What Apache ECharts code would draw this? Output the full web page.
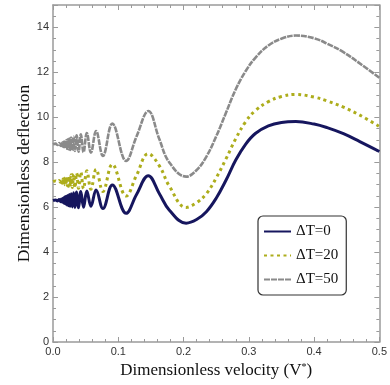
<!DOCTYPE html>
<html><head><meta charset="utf-8">
<script src="https://cdn.jsdelivr.net/npm/echarts@6/dist/echarts.min.js"></script>
<style>html,body{margin:0;padding:0;background:#fff}#c{width:390px;height:385px}</style>
</head><body><div id="c"></div>
<script>
const seriesNames = ['ΔT=0', 'ΔT=20', 'ΔT=50'];
const velocity = [0.000, 0.004, 0.007, 0.0095, 0.0112, 0.0121,
  0.0129, 0.0133, 0.0137, 0.0141, 0.0145, 0.0149, 0.0154, 0.0159, 0.0164, 0.0170,
  0.0177, 0.0183, 0.0190, 0.0198, 0.0207, 0.0216, 0.0226, 0.0237, 0.0250, 0.0263,
  0.0279, 0.0296, 0.0315, 0.0337, 0.0362, 0.0392, 0.0426, 0.0468, 0.0518, 0.0581,
  0.0660, 0.0765, 0.0909, 0.1120, 0.128, 0.146, 0.163, 0.178, 0.204, 0.22, 0.235,
  0.25, 0.265, 0.28, 0.295, 0.31, 0.33, 0.35, 0.372, 0.40, 0.42, 0.445, 0.47, 0.50];
const deflectionDT0 = [6.30, 6.32, 6.28, 6.34, 6.27, 6.24,
  6.36, 6.25, 6.37, 6.24, 6.38, 6.22, 6.40, 6.20, 6.42, 6.18,
  6.44, 6.16, 6.46, 6.13, 6.49, 6.10, 6.52, 6.07, 6.56, 6.04,
  6.60, 6.01, 6.64, 5.99, 6.68, 5.98, 6.70, 6.00, 6.72, 6.04,
  6.77, 5.94, 6.99, 5.73, 6.57, 7.40, 6.60, 5.88, 5.29, 5.45, 5.80,
  6.40, 7.20, 8.10, 8.80, 9.28, 9.62, 9.77, 9.81, 9.70, 9.54, 9.27, 8.92, 8.48];
const deflectionDT20 = [7.15, 7.17, 7.13, 7.19, 7.12, 7.10,
  7.21, 7.08, 7.22, 7.07, 7.23, 7.06, 7.25, 7.04, 7.27, 7.02,
  7.29, 7.00, 7.31, 6.98, 7.34, 6.96, 7.37, 6.93, 7.40, 6.90,
  7.44, 6.88, 7.48, 6.86, 7.52, 6.84, 7.57, 6.82, 7.62, 6.80,
  7.69, 6.70, 7.91, 6.50, 7.42, 8.38, 7.84, 6.95, 5.99, 6.20, 6.60,
  7.30, 8.15, 9.05, 9.80, 10.30, 10.70, 10.93, 11.02, 10.90, 10.73, 10.45, 10.10, 9.59];
const deflectionDT50 = [8.80, 8.83, 8.77, 8.85, 8.75, 8.73,
  8.86, 8.73, 8.87, 8.72, 8.88, 8.70, 8.89, 8.69, 8.91, 8.67,
  8.93, 8.65, 8.96, 8.63, 8.99, 8.60, 9.02, 8.58, 9.06, 8.55,
  9.10, 8.52, 9.15, 8.50, 9.20, 8.47, 9.25, 8.45, 9.30, 8.43,
  9.39, 8.28, 9.72, 8.06, 9.15, 10.28, 9.02, 8.00, 7.36, 7.65, 8.25,
  9.15, 10.20, 11.25, 12.05, 12.65, 13.20, 13.50, 13.64, 13.52, 13.28, 12.90, 12.40, 11.76];

function pairs(ys) { return velocity.map((v, i) => [v, ys[i]]); }

const chart = echarts.init(document.getElementById('c'), null, {renderer: 'canvas'});
const axisGray = '#9a9a9a';
const tickFont = {fontFamily: 'Arial, Helvetica, sans-serif', fontSize: 11, color: '#333'};
function xAx(pos, labels) {
  return {
    type: 'value', position: pos, min: 0, max: 0.5, interval: 0.1,
    axisLine: {show: true, onZero: false, lineStyle: {color: axisGray, width: 1.5}},
    axisTick: {show: true, inside: true, length: 5, lineStyle: {color: axisGray}},
    minorTick: {show: true, splitNumber: 5, length: 3, lineStyle: {color: axisGray}},
    splitLine: {show: false},
    axisLabel: labels ? Object.assign({show: true, margin: 4, formatter: v => v.toFixed(1)}, tickFont) : {show: false},
    name: labels ? '{a|Dimensionless velocity (V}{s|*}{a|)}' : '',
    nameLocation: 'middle', nameGap: 20, nameMoveOverlap: false,
    nameTextStyle: {rich: {
      a: {fontFamily: '"Liberation Serif", "Times New Roman", serif', fontSize: 17, color: '#111'},
      s: {fontFamily: '"Liberation Serif", serif', fontSize: 10, color: '#111', padding: [0, 0, 8, 0]}
    }}
  };
}
function yAx(pos, labels) {
  return {
    type: 'value', position: pos, min: 0, max: 15, interval: 2,
    axisLine: {show: true, onZero: false, lineStyle: {color: axisGray, width: 1.5}},
    axisTick: {show: true, inside: true, length: 5, lineStyle: {color: axisGray}},
    minorTick: {show: true, splitNumber: 4, length: 3, lineStyle: {color: axisGray}},
    splitLine: {show: false},
    axisLabel: labels ? Object.assign({show: true, margin: 4, showMaxLabel: false,
      formatter: v => (v > 14 ? '' : String(v))}, tickFont) : {show: false},
    name: labels ? 'Dimensionless deflection' : '',
    nameLocation: 'middle', nameGap: 20, nameMoveOverlap: false,
    nameTextStyle: {fontFamily: '"Liberation Serif", "Times New Roman", serif', fontSize: 17.5, color: '#111'}
  };
}

chart.setOption({
  animation: false,
  backgroundColor: '#fff',
  grid: {left: 53, right: 8, top: 5, bottom: 43},
  xAxis: [xAx('bottom', true), xAx('top', false)],
  yAxis: [yAx('left', true), yAx('right', false)],
  legend: {
    orient: 'vertical', left: 258, top: 216,
    padding: [8, 8, 8, 5], itemGap: 9, itemWidth: 27, itemHeight: 14, itemTextGap: 5,
    borderColor: '#333', borderWidth: 1.2, borderRadius: 5, backgroundColor: '#fff',
    itemStyle: {opacity: 0},
    textStyle: {fontFamily: '"Liberation Serif", "Times New Roman", serif', fontSize: 15, color: '#111'},
    data: seriesNames
  },
  series: [
    {name: seriesNames[2], type: 'line', data: pairs(deflectionDT50), symbol: 'none', smooth: 0.4,
      lineStyle: {color: '#8a8a8a', width: 2.6, type: [6, 1]}, itemStyle: {color: '#8a8a8a'}, z: 2},
    {name: seriesNames[1], type: 'line', data: pairs(deflectionDT20), symbol: 'none', smooth: 0.4,
      lineStyle: {color: '#adad1c', width: 3, type: [3, 3.5]}, itemStyle: {color: '#adad1c'}, z: 3},
    {name: seriesNames[0], type: 'line', data: pairs(deflectionDT0), symbol: 'none', smooth: 0.4,
      lineStyle: {color: '#16165e', width: 3}, itemStyle: {color: '#16165e'}, z: 4}
  ]
});
</script>
</body></html>
